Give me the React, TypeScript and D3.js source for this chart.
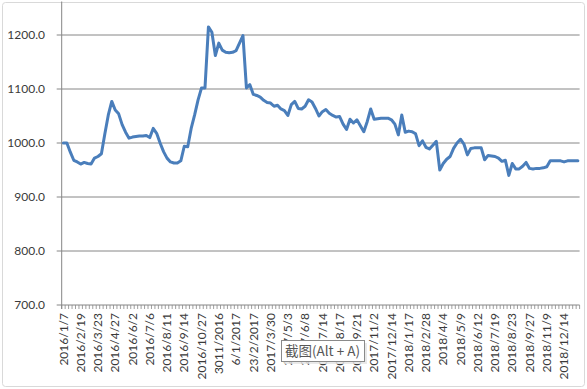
import React from 'react';
import * as d3 from 'd3';

// x-axis labels: one every 5 weekly categories
const tickLabels = [
  '2016/1/7', '2016/2/19', '2016/3/23', '2016/4/27', '2016/6/2', '2016/7/6',
  '2016/8/11', '2016/9/14', '2016/10/27', '3011/2016', '6/1/2017', '23/2/2017',
  '2017/3/30', '2017/5/3', '2017/6/8', '2017/7/14', '2017/8/17', '2017/9/21',
  '2017/11/2', '2017/12/14', '2018/1/17', '2018/2/28', '2018/4/4', '2018/5/9',
  '2018/6/12', '2018/7/19', '2018/8/23', '2018/9/27', '2018/11/9', '2018/12/14',
];

// price series, 150 weekly points
const values = [
  1000, 1000, 983, 968, 965, 961, 964, 962, 961, 972,
  975, 980, 1017, 1052, 1077, 1061, 1054, 1034, 1020, 1009,
  1011, 1012, 1013, 1013, 1014, 1010, 1027, 1018, 1000, 984,
  972, 965, 963, 963, 967, 994, 993, 1027, 1052, 1080,
  1102, 1102, 1215, 1205, 1162, 1185, 1172, 1168, 1167, 1168,
  1171, 1185, 1199, 1102, 1108, 1090, 1088, 1085, 1079, 1075,
  1074, 1068, 1070, 1063, 1060, 1051, 1071, 1077, 1064, 1063,
  1068, 1080, 1076, 1064, 1050, 1058, 1062, 1055, 1051, 1048,
  1049, 1035, 1025, 1044, 1037, 1043, 1032, 1021, 1040, 1063,
  1044, 1045, 1046, 1046, 1046, 1043, 1035, 1015, 1052, 1020,
  1022, 1021, 1017, 995, 1004, 992, 989, 996, 1003, 950,
  962, 970, 975, 990, 1000, 1007, 998, 978, 990, 991,
  991, 991, 969, 977, 976, 975, 972, 966, 968, 940,
  962, 952, 952, 957, 964, 953, 952, 953, 953, 954,
  956, 967, 967, 967, 967, 965, 967, 967, 967, 967,
];

const yTicks = [700, 800, 900, 1000, 1100, 1200];

const W = 587;
const H = 389;
const plotLeft = 61.7;
const plotRight = 579.6;
const plotBottom = 305;
const font = 'Lato, "Open Sans", sans-serif';
const labelColor = '#3a3a3a';
const axisColor = '#868686';

export default function App() {
  const x = d3.scaleBand<number>()
    .domain(values.map((_, i) => i))
    .range([plotLeft, plotRight])
    .paddingInner(0)
    .paddingOuter(0);
  const bw = x.bandwidth();
  const cx = (i: number) => (x(i) ?? 0) + bw / 2;

  const y = d3.scaleLinear().domain([700, 1200]).range([plotBottom, 35]);

  const line = d3.line<number>()
    .x((_, i) => cx(i))
    .y(d => y(d))
    .curve(d3.curveLinear);

  const boundaries = d3.range(values.length + 1).map(k => plotLeft + k * bw);

  return (
    <svg width={W} height={H} style={{ position: 'absolute', left: 0, top: 0, background: '#fff' }}>
      <rect x={2.5} y={2.5} width={W - 5} height={H - 5} rx={3} fill="#fff" stroke="#d9d9d9" />

      {/* gridlines */}
      {yTicks.slice(1).map(t => (
        <line key={t} x1={plotLeft} x2={plotRight} y1={y(t)} y2={y(t)} stroke={axisColor} strokeWidth={1} />
      ))}

      {/* y axis */}
      <line x1={plotLeft} x2={plotLeft} y1={y(1262)} y2={plotBottom + 4} stroke={axisColor} />
      {yTicks.map(t => (
        <g key={t}>
          <line x1={plotLeft - 5} x2={plotLeft} y1={y(t)} y2={y(t)} stroke={axisColor} />
          <text x={45} y={y(t)} dy="0.35em" textAnchor="end" fontFamily={font} fontSize={12} fill={labelColor}>
            {d3.format('.1f')(t)}
          </text>
        </g>
      ))}

      {/* x axis */}
      <line x1={plotLeft} x2={plotRight} y1={plotBottom} y2={plotBottom} stroke={axisColor} />
      {boundaries.map((b, k) => (
        <line key={k} x1={b} x2={b} y1={plotBottom} y2={plotBottom + 4} stroke={axisColor} strokeWidth={0.8} />
      ))}
      {tickLabels.map((lab, k) => {
        const px = cx(k * 5);
        return (
          <text key={lab} transform={`translate(${px},313) rotate(-90)`} dy="0.35em" textAnchor="end"
            fontFamily={font} fontSize={12} fill={labelColor}>
            {lab}
          </text>
        );
      })}

      {/* series */}
      <path d={line(values) ?? ''} fill="none" stroke="#4A7EBB" strokeWidth={3} strokeLinejoin="round" strokeLinecap="round" />

      {/* screenshot tooltip overlay */}
      <rect x={282.5} y={341.5} width={83} height={21} fill="#e4e4e4" opacity={0.8} transform="translate(1.5,1.5)" />
      <rect x={281.5} y={340.5} width={83} height={21} fill="#fff" stroke="#8a8a8a" />
      <text x={285} y={351.5} dy="0.35em" fontFamily='"Noto Sans CJK SC", sans-serif' fontSize={13.5} fill="#575757">
        截图(Alt + A)
      </text>
    </svg>
  );
}
